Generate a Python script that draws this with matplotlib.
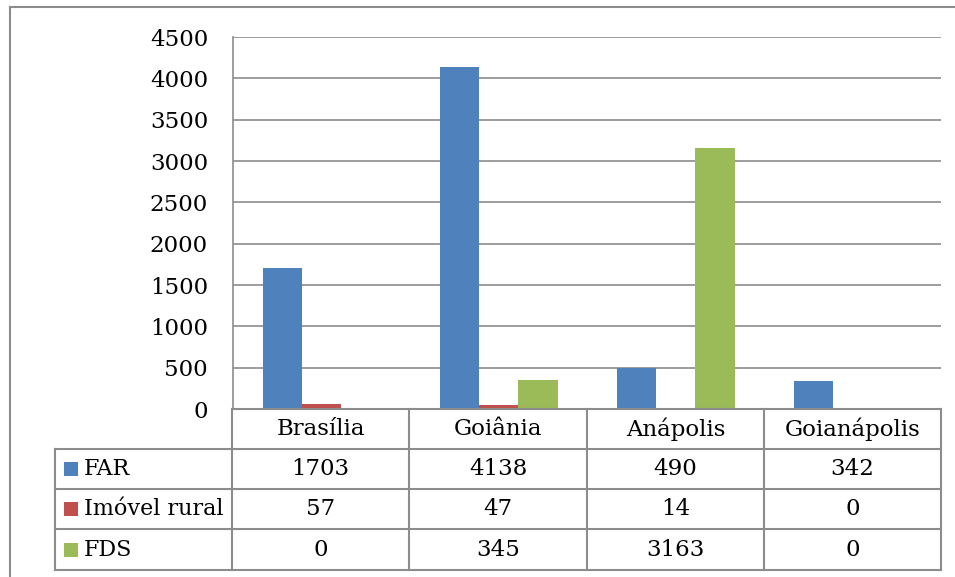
import matplotlib
matplotlib.use('Agg')
import matplotlib.pyplot as plt
from matplotlib.lines import Line2D
from matplotlib.patches import Rectangle
import numpy as np

plt.rcParams.update({'font.family': 'DejaVu Serif', 'font.size': 16})

cities = ['Brasília', 'Goiânia', 'Anápolis', 'Goianápolis']
series = ['FAR', 'Imóvel rural', 'FDS']
far = [1703, 4138, 490, 342]
rural = [57, 47, 14, 0]
fds = [0, 345, 3163, 0]
colors = ['#4F81BD', '#C0504D', '#9BBB59']
yticks = [0, 500, 1000, 1500, 2000, 2500, 3000, 3500, 4000, 4500]

W, H = 955, 577
fig = plt.figure(figsize=(W / 100, H / 100), dpi=100)

def fx(x):
    return x / W

def fy(y):
    return 1 - y / H

grey = '#8C8C8C'
fs = 16.5

# plot area
left, right, top, bottom = 233, 941, 37, 409
ax = fig.add_axes([fx(left), fy(bottom), fx(right - left), fy(top) - fy(bottom)])
x = np.arange(len(cities))
w = 1 / 4.5
for i, vals in enumerate([far, rural, fds]):
    ax.bar(x + (i - 1) * w, vals, w, color=colors[i], zorder=3)
ax.set_xlim(-0.5, len(cities) - 0.5)
ax.set_ylim(0, 4500)
ax.set_yticks(yticks)
ax.set_yticklabels([str(v) for v in yticks])
ax.yaxis.grid(True, color=grey, lw=1.2, zorder=0)
ax.tick_params(axis='y', length=0, pad=18, labelsize=fs)
ax.set_xticks([])
for s in ['top', 'right', 'bottom']:
    ax.spines[s].set_visible(False)
ax.spines['left'].set_color(grey)
ax.spines['left'].set_linewidth(1.2)

# outer frame
fig.add_artist(Line2D([fx(10), fx(10)], [fy(7), fy(577)], color=grey, lw=1.5))
fig.add_artist(Line2D([fx(10), fx(955)], [fy(7), fy(7)], color=grey, lw=1.5))

# data table under the chart
cols = [232, 409, 587, 764, 941]
rows = [409, 449, 489, 529, 570]
lab_left = 55

def hline(y, x0, x1):
    fig.add_artist(Line2D([fx(x0), fx(x1)], [fy(y), fy(y)], color=grey, lw=1.5))

def vline(x, y0, y1):
    fig.add_artist(Line2D([fx(x), fx(x)], [fy(y0), fy(y1)], color=grey, lw=1.5))

hline(rows[0], cols[0], cols[-1])
for y in rows[1:]:
    hline(y, lab_left, cols[-1])
for c in cols:
    vline(c, rows[0], rows[-1])
vline(lab_left, rows[1], rows[-1])

for j, name in enumerate(cities):
    cx = (cols[j] + cols[j + 1]) / 2
    cy = (rows[0] + rows[1]) / 2
    fig.text(fx(cx), fy(cy), name, ha='center', va='center', fontsize=fs)

for i, (name, vals) in enumerate(zip(series, [far, rural, fds])):
    cy = (rows[i + 1] + rows[i + 2]) / 2
    fig.add_artist(Rectangle((fx(64), fy(cy + 7)), fx(14), fy(cy - 7) - fy(cy + 7),
                             color=colors[i], lw=0))
    fig.text(fx(84), fy(cy), name, ha='left', va='center', fontsize=16)
    for j, v in enumerate(vals):
        cx = (cols[j] + cols[j + 1]) / 2
        fig.text(fx(cx), fy(cy), str(v), ha='center', va='center', fontsize=fs)

plt.savefig('out.png', dpi=100)
plt.close()
